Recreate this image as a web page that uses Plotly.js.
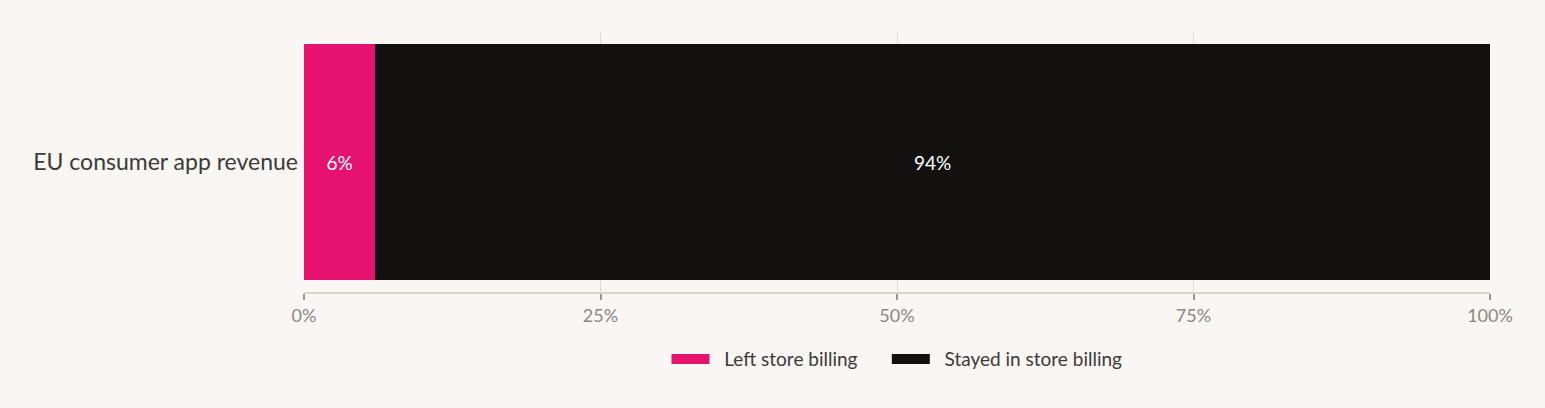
<!DOCTYPE html>
<html>
<head>
<meta charset="utf-8">
<script src="https://cdn.plot.ly/plotly-3.0.1.min.js"></script>
<style>
  html, body { margin: 0; padding: 0; background: #f9f6f3; }
</style>
</head>
<body>
<div id="chart"></div>
<script>
// data
var categories = ['EU consumer app revenue'];
var left_share = [6];
var stayed_share = [94];
var series_names = ['Left store billing', 'Stayed in store billing'];
var series_colors = ['#e5136f', '#12110f'];
var tick_vals = [0, 25, 50, 75, 100];
var tick_text = ['0%', '25%', '50%', '75%', '100%'];

var make_bar = function (vals, name, color) {
  return {
    type: 'bar',
    orientation: 'h',
    y: categories,
    x: vals,
    name: name,
    showlegend: false,
    marker: {color: color, line: {width: 0}},
    text: vals.map(function (v) { return v + '%'; }),
    textposition: 'inside',
    insidetextanchor: 'middle',
    textfont: {family: 'Lato, sans-serif', size: 19, color: '#ffffff'},
    hoverinfo: 'skip'
  };
};

// legend-only traces so the swatches come out as wide blocks
// (nbsp pads open up the gaps around the labels)
var nb = function (n) { return new Array(n + 1).join('\u00a0'); };
var make_key = function (name, color, tail) {
  return {
    type: 'scatter',
    mode: 'lines',
    x: [null],
    y: [null],
    name: nb(2) + name + nb(tail),
    line: {color: color, width: 14},
    hoverinfo: 'skip'
  };
};

var data = [
  make_bar(left_share, series_names[0], series_colors[0]),
  make_bar(stayed_share, series_names[1], series_colors[1]),
  make_key(series_names[0], series_colors[0], 5),
  make_key(series_names[1], series_colors[1], 0)
];

var layout = {
  width: 1545,
  height: 408,
  paper_bgcolor: '#f9f6f3',
  plot_bgcolor: '#f9f6f3',
  font: {family: 'Lato, sans-serif', color: '#3d3a38'},
  margin: {l: 304, r: 55, t: 32, b: 116},
  barmode: 'stack',
  bargap: 0.092,
  hovermode: false,
  xaxis: {
    range: [0, 100],
    tickvals: tick_vals,
    ticktext: tick_text,
    tickfont: {size: 18, color: '#8c8684'},
    showgrid: true,
    gridcolor: '#e2dbd4',
    gridwidth: 1,
    zeroline: false,
    showline: true,
    linecolor: '#ddd5cc',
    linewidth: 2,
    ticks: 'outside',
    ticklen: 6,
    tickwidth: 2,
    tickcolor: '#9c9592',
    fixedrange: true
  },
  yaxis: {
    range: [-0.5, 0.5],
    tickfont: {size: 23, color: '#3d3a38'},
    ticks: '',
    ticklen: 0,
    ticklabelstandoff: 5,
    showgrid: false,
    zeroline: false,
    showline: false,
    fixedrange: true
  },
  showlegend: true,
  legend: {
    orientation: 'h',
    x: 0.5,
    xanchor: 'center',
    y: -0.185,
    yanchor: 'top',
    font: {size: 19, color: '#3d3a38'},
    itemwidth: 38,
    bgcolor: 'rgba(0,0,0,0)',
    traceorder: 'normal'
  }
};

Plotly.newPlot('chart', data, layout, {displayModeBar: false, staticPlot: true});
</script>
</body>
</html>
